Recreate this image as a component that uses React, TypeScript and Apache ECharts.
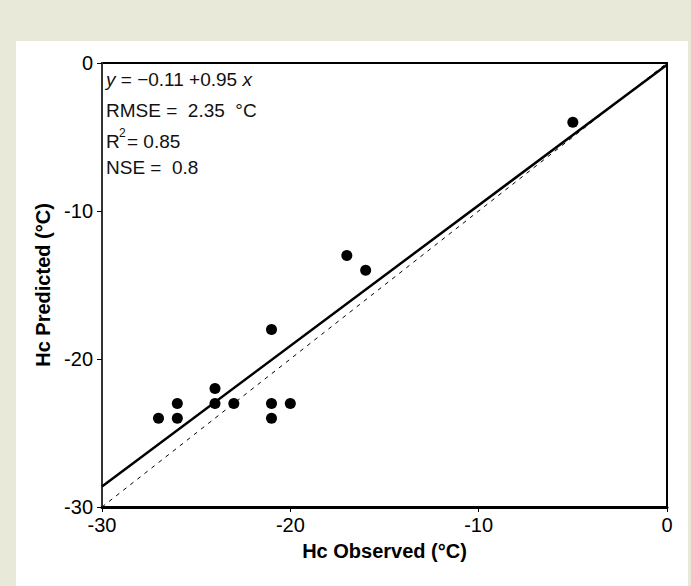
import React, { useEffect, useRef } from 'react';
import * as echarts from 'echarts';

// Observed vs predicted cold hardiness (°C)
const observed = [-27, -26, -26, -24, -24, -23, -21, -21, -21, -20, -17, -16, -5];
const predicted = [-24, -23, -24, -22, -23, -23, -18, -23, -24, -23, -13, -14, -4];

const axisMin = -30;
const axisMax = 0;
const axisStep = 10;

// Fitted regression (as printed on the chart)
const fitIntercept = -0.11;
const fitSlope = 0.95;
const rmse = '2.35';
const r2 = '0.85';
const nse = '0.8';

const xTitle = 'Hc Observed (°C)';
const yTitle = 'Hc Predicted (°C)';

const FONT = '"Liberation Sans", Arial, Helvetica, sans-serif';

export default function App() {
  const ref = useRef<HTMLDivElement>(null);

  useEffect(() => {
    document.body.style.margin = '0';
    if (!ref.current) return;
    const chart = echarts.init(ref.current, undefined, { renderer: 'svg' });

    const points = observed.map((x, i) => [x, predicted[i]]);
    const fitLine = [axisMin, axisMax].map((x) => [x, +(fitIntercept + fitSlope * x).toFixed(3)]);
    const oneToOne = [
      [axisMin, axisMin],
      [axisMax, axisMax],
    ];

    const annoStyle = { fontFamily: FONT, fontSize: 19, fill: '#111' };

    chart.setOption({
      animation: false,
      backgroundColor: 'transparent',
      grid: {
        left: 102,
        top: 63,
        width: 565,
        height: 444,
        show: true,
        borderColor: '#000',
        borderWidth: 2,
        backgroundColor: 'transparent',
      },
      xAxis: {
        type: 'value',
        min: axisMin,
        max: axisMax,
        interval: axisStep,
        name: xTitle,
        nameLocation: 'middle',
        nameGap: 34,
        nameTextStyle: { fontFamily: FONT, fontSize: 20, fontWeight: 'bold', color: '#000' },
        axisLine: { show: true, onZero: false, lineStyle: { color: '#000', width: 3 } },
        axisTick: { show: true, inside: false, length: 5, lineStyle: { color: '#000', width: 1 } },
        axisLabel: { fontFamily: FONT, fontSize: 20, color: '#000', margin: 8 },
        splitLine: { show: false },
      },
      yAxis: {
        type: 'value',
        min: axisMin,
        max: axisMax,
        interval: axisStep,
        name: yTitle,
        nameLocation: 'middle',
        nameGap: 46,
        nameRotate: 90,
        nameTextStyle: { fontFamily: FONT, fontSize: 20, fontWeight: 'bold', color: '#000' },
        axisLine: { show: true, onZero: false, lineStyle: { color: '#333', width: 2 } },
        axisTick: { show: true, inside: false, length: 5, lineStyle: { color: '#000', width: 1 } },
        axisLabel: { fontFamily: FONT, fontSize: 20, color: '#000', margin: 9 },
        splitLine: { show: false },
      },
      series: [
        {
          type: 'line',
          data: oneToOne,
          showSymbol: false,
          symbol: 'none',
          lineStyle: { color: '#000', width: 1, type: [4, 5] },
          z: 3,
        },
        {
          type: 'line',
          data: fitLine,
          showSymbol: false,
          symbol: 'none',
          lineStyle: { color: '#000', width: 2.5 },
          z: 4,
        },
        {
          type: 'scatter',
          data: points,
          symbol: 'circle',
          symbolSize: 11,
          itemStyle: { color: '#000', opacity: 1 },
          z: 5,
        },
      ],
      graphic: [
        {
          type: 'text',
          left: 106,
          top: 70,
          style: {
            ...annoStyle,
            text: '{i|y}{n| = −0.11 +0.95 }{i|x}',
            rich: {
              i: { fontFamily: FONT, fontSize: 19, fontStyle: 'italic', fill: '#111' },
              n: { fontFamily: FONT, fontSize: 19, fill: '#111' },
            },
          },
        },
        {
          type: 'text',
          left: 106,
          top: 101,
          style: { ...annoStyle, text: `RMSE =  ${rmse}  °C` },
        },
        {
          type: 'text',
          left: 106,
          top: 132,
          style: { ...annoStyle, text: 'R' },
        },
        {
          type: 'text',
          left: 119,
          top: 127,
          style: { fontFamily: FONT, fontSize: 12, fill: '#111', text: '2' },
        },
        {
          type: 'text',
          left: 127,
          top: 132,
          style: { ...annoStyle, text: `= ${r2}` },
        },
        {
          type: 'text',
          left: 106,
          top: 158,
          style: { ...annoStyle, text: `NSE =  ${nse}` },
        },
      ],
    });

    return () => chart.dispose();
  }, []);

  return (
    <div style={{ position: 'relative', width: 691, height: 586, background: '#e8e9d8', overflow: 'hidden' }}>
      <div style={{ position: 'absolute', left: 16, top: 41, width: 672, height: 545, background: '#ffffff' }} />
      <div ref={ref} style={{ position: 'absolute', left: 0, top: 0, width: 691, height: 586 }} />
    </div>
  );
}
